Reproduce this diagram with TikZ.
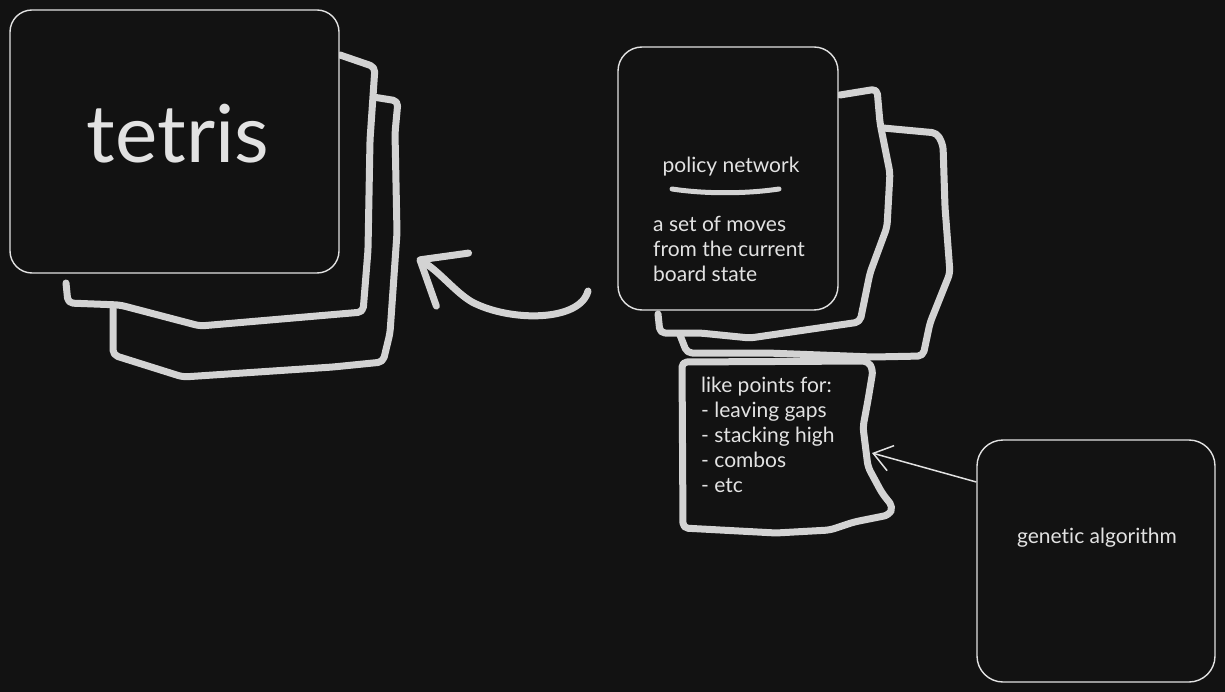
\documentclass[tikz,border=0pt]{standalone}
\usepackage{fontspec}
\setmainfont{Lato}[Ligatures=NoCommon]
\usetikzlibrary{arrows.meta}
\definecolor{bg}{HTML}{121212}
\definecolor{ink}{HTML}{D3D3D3}
\definecolor{chalk}{HTML}{E2E2E2}

\begin{document}
\begin{tikzpicture}[x=1pt,y=-1pt,
    card/.style={draw=chalk,fill=bg,line width=1.4pt,rounded corners=22pt,inner sep=0pt},
    sketch/.style={draw=ink,fill=bg,line width=7pt,line cap=round,line join=round,rounded corners=5pt},
    txt/.style={text=chalk,inner sep=0pt,font=\fontsize{21}{25}\selectfont,align=left}]
  \tikzstyle{bigtxt}=[text=chalk,inner sep=0pt,font=\fontsize{80}{84}\selectfont]

  \fill[bg] (0,0) rectangle (1225,692);
  \useasboundingbox (0,0) rectangle (1225,692);

  % tetris pile
  \draw[sketch] (113,307) -- (113,355) -- (183,377) -- (333,367) -- (383,362) -- (390,333)
    -- (397,233) -- (395,133) -- (398,101) -- (373,97);
  \draw[sketch] (66,283) -- (68,303) -- (120,305) -- (200,326) -- (363,312) -- (368,250)
    -- (370,140) -- (375,67) -- (340,55);
  \node[card,minimum width=329pt,minimum height=263pt] (tetris) at (174.5,141.5) {};
  \node[bigtxt,anchor=base] (tetris label) at (178,163) {tetris};

  % policy pile
  \draw[sketch] (883,128) -- (937,133) -- (943,145) -- (945,207) -- (950,273) -- (930,323)
    -- (923,356) -- (873,357) -- (767,353) -- (687,353) -- (680,335);
  \draw[sketch] (682,362) -- (683,528) -- (776,533) -- (830,530) -- (854,522) -- (889,515)
    -- (893,507) -- (882,493) -- (868,467) -- (863,427) -- (868,400) -- (873,370)
    -- (868,361) -- cycle;
  \draw[sketch] (840,95) -- (877,89) -- (880,123) -- (890,173) -- (887,227) -- (870,273)
    -- (860,322) -- (750,338) -- (700,333) -- (660,333) -- (658,314);
  \node[card,minimum width=220pt,minimum height=263pt,rounded corners=24pt] (policy) at (728,178.5) {};
  \node[txt,anchor=base] (policy title) at (731,173) {policy network};
  \draw[ink,line width=5pt,line cap=round] (672,189) .. controls (705,194) and (745,194) .. (779,189);
  % base of a multi-line node sits on its last line
  \node[txt,anchor=base west] (moves) at (653,282) {a set of moves\\from the current\\board state};

  \node[txt,anchor=base west] (points) at (701,492)
    {like points for:\\- leaving gaps\\- stacking high\\- combos\\- etc};

  % genetic algorithm
  \node[card,minimum width=238pt,minimum height=242pt,rounded corners=26pt] (ga) at (1096,561) {};
  \node[txt,anchor=base] (ga label) at (1097,543) {genetic algorithm};

  \coordinate (arr start) at (588,291);
  \coordinate (arr tip) at (417,258);
  \coordinate (pts tip) at (872,453);

  \draw[sketch,fill=none,sharp corners,-{Straight Barb[length=38pt,width=62pt,round]}]
    (arr start) .. controls (580,322) and (510,322) .. (472,302)
    .. controls (455,292) and (440,272) .. (arr tip);
  \draw[chalk,line width=1.5pt,-{Straight Barb[length=18pt,width=26pt]}]
    ([yshift=79pt]ga.west) -- (pts tip);
\end{tikzpicture}
\end{document}
